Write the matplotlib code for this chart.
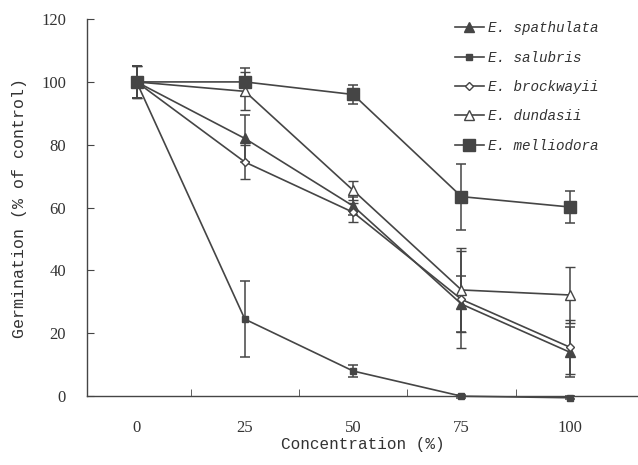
import matplotlib
matplotlib.use("Agg")
import matplotlib.pyplot as plt
from matplotlib.lines import Line2D
import numpy as np

# Data
concentrations = ["0", "25", "50", "75", "100"]

spathulata = [100, 82, 60.5, 29.3, 14]
spathulata_err = [5, 7.5, 3, 9, 8]

salubris = [100, 24.5, 8, 0, -0.5]
salubris_err = [5, 12, 2, 0.5, 0.5]

brockwayii = [100, 74.5, 58.5, 30.8, 15.6]
brockwayii_err = [5, 5.5, 3, 15.5, 8.6]

dundasii = [100, 97, 65.5, 33.8, 32.2]
dundasii_err = [5, 6, 3, 13.5, 9]

melliodora = [100, 100, 96, 63.5, 60.2]
melliodora_err = [5, 4.5, 3, 10.5, 5]

names = ["E. spathulata", "E. salubris", "E. brockwayii", "E. dundasii", "E. melliodora"]

ink = "#454545"
mono = ["Liberation Mono", "DejaVu Sans Mono"]
serif = ["Liberation Serif", "DejaVu Serif"]

fig = plt.figure(figsize=(6.38, 4.65), dpi=100)
ax = fig.add_axes([0.136, 0.148, 0.864, 0.811])

x = np.arange(len(concentrations))

series = [
    (spathulata, spathulata_err, dict(marker="^", ms=6.5, mfc=ink, mec=ink)),
    (salubris, salubris_err, dict(marker="s", ms=5, mfc=ink, mec=ink)),
    (brockwayii, brockwayii_err, dict(marker="D", ms=4.5, mfc="white", mec=ink, mew=1.0)),
    (dundasii, dundasii_err, dict(marker="^", ms=6.5, mfc="white", mec=ink, mew=1.0)),
    (melliodora, melliodora_err, dict(marker="s", ms=8.5, mfc=ink, mec=ink)),
]

handles = []
for (vals, errs, style), name in zip(series, names):
    ax.errorbar(x, vals, yerr=errs, color=ink, lw=1.2, elinewidth=1.1,
                capsize=3.5, capthick=1.1, clip_on=False, zorder=3, **style)
    handles.append(Line2D([], [], color=ink, lw=1.2, label=name, **style))

ax.set_xlim(-0.46, 4.63)
ax.set_ylim(0, 120)
ax.set_yticks(np.arange(0, 121, 20))

ax.set_xticks(x)
ax.set_xticklabels(concentrations)
ax.set_xticks(x[:-1] + 0.5, minor=True)
ax.tick_params(axis="x", which="major", length=0, pad=17)
ax.tick_params(axis="x", which="minor", direction="in", length=5, color=ink)
ax.tick_params(axis="y", direction="in", length=5, color=ink, pad=15)
for lab in ax.get_xticklabels() + ax.get_yticklabels():
    lab.set_fontfamily(serif)
    lab.set_fontsize(12)
    lab.set_color("#333333")

for side in ["top", "right"]:
    ax.spines[side].set_visible(False)
for side in ["left", "bottom"]:
    ax.spines[side].set_color(ink)
    ax.spines[side].set_linewidth(1.0)

ax.set_xlabel("Concentration (%)", family=mono, fontsize=11.5, color="#333333", labelpad=1)
ax.set_ylabel("Germination (% of control)", family=mono, fontsize=12, color="#333333", labelpad=10)

leg = fig.legend(handles=handles, loc="upper left", bbox_to_anchor=(0.713, 0.954),
                 frameon=False, prop={"family": mono, "style": "italic", "size": 10.3},
                 handlelength=2.0, handletextpad=0.3, labelspacing=1.07,
                 borderaxespad=0, borderpad=0)
for t in leg.get_texts():
    t.set_color("#333333")

fig.savefig("out.png", dpi=100)
